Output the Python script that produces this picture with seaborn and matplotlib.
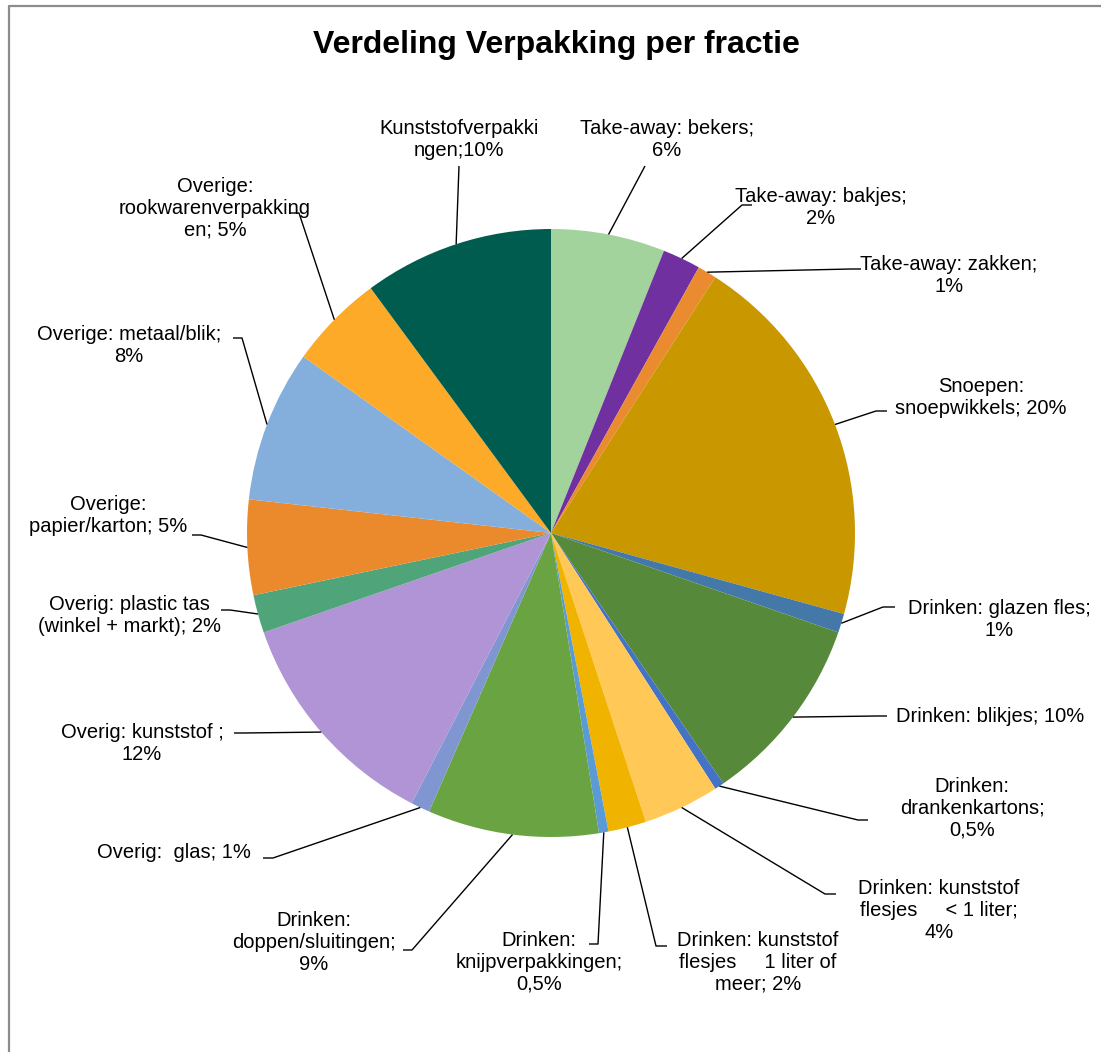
import numpy as np
import matplotlib
matplotlib.use("Agg")
import matplotlib.pyplot as plt
import seaborn as sns

# Shares per packaging fraction (percent), clockwise from the top
categories = [
    "Take-away: bekers", "Take-away: bakjes", "Take-away: zakken",
    "Snoepen: snoepwikkels", "Drinken: glazen fles", "Drinken: blikjes",
    "Drinken: drankenkartons", "Drinken: kunststof flesjes < 1 liter",
    "Drinken: kunststof flesjes 1 liter of meer", "Drinken: knijpverpakkingen",
    "Drinken: doppen/sluitingen", "Overig: glas", "Overig: kunststof",
    "Overig: plastic tas (winkel + markt)", "Overige: papier/karton",
    "Overige: metaal/blik", "Overige: rookwarenverpakkingen",
    "Kunststofverpakkingen",
]
values = [6, 2, 1, 20, 1, 10, 0.5, 4, 2, 0.5, 9, 1, 12, 2, 5, 8, 5, 10]

# Label texts as wrapped in the chart; {} receives the percentage
label_templates = [
    "Take-away: bekers;\n{}",
    "Take-away: bakjes;\n{}",
    "Take-away: zakken;\n{}",
    "Snoepen:\nsnoepwikkels; {}",
    "Drinken: glazen fles;\n{}",
    "Drinken: blikjes; {}",
    "Drinken:\ndrankenkartons;\n{}",
    "Drinken: kunststof\nflesjes     < 1 liter;\n{}",
    "Drinken: kunststof\nflesjes     1 liter of\nmeer; {}",
    "Drinken:\nknijpverpakkingen;\n{}",
    "Drinken:\ndoppen/sluitingen;\n{}",
    "Overig:  glas; {}",
    "Overig: kunststof ;\n{}",
    "Overig: plastic tas\n(winkel + markt); {}",
    "Overige:\npapier/karton; {}",
    "Overige: metaal/blik;\n{}",
    "Overige:\nrookwarenverpakking\nen; {}",
    "Kunststofverpakki\nngen;{}",
]

colors = [
    "#A2D39C", "#7030A0", "#EA8B2F", "#C99700", "#4478A8", "#568A3A",
    "#4472C4", "#FFC857", "#F0B400", "#5B9BD5", "#6AA342", "#7F96D0",
    "#B094D6", "#50A47A", "#EA8A2D", "#84AEDB", "#FDAA28", "#005C4E",
]

# Layout in pixel units (y measured from the top of the figure)
W, H = 1101, 1052
CENTER = (551, 533)
RADIUS = 304
# text centre, elbow of leader line, end of short horizontal tail (or None)
label_layout = [
    ((667, 140), (645, 166), None),
    ((821, 208), (742, 205), (752, 205)),
    ((949, 275), (851, 269), (861, 269)),
    ((981, 397), (876, 411), (887, 411)),
    ((999, 620), (883, 607), (895, 607)),
    ((990, 716), (877, 716), (887, 716)),
    ((972, 808), (858, 820), (868, 820)),
    ((939, 911), (825, 894), (836, 894)),
    ((758, 962), (656, 946), (667, 946)),
    ((539, 962), (598, 944), (589, 944)),
    ((314, 943), (412, 950), (403, 950)),
    ((174, 853), (273, 858), (263, 858)),
    ((142, 743), (243, 733), (234, 733)),
    ((129, 615), (230, 610), (221, 610)),
    ((108, 516), (201, 535), (192, 535)),
    ((129, 345), (242, 338), (233, 338)),
    ((215, 208), (299, 213), (290, 213)),
    ((459, 140), (459, 166), None),
]


def px(x, y):
    return x, H - y


def fmt_pct(v):
    s = f"{v:g}".replace(".", ",")
    return s + "%"


sns.set_theme(style="white")
plt.rcParams["font.family"] = ["Liberation Sans", "DejaVu Sans"]

fig = plt.figure(figsize=(W / 100, H / 100), dpi=100)
ax = fig.add_axes([0, 0, 1, 1])

palette = sns.color_palette(colors)
wedges, _ = ax.pie(
    values,
    colors=palette,
    startangle=90,
    counterclock=False,
    center=px(*CENTER),
    radius=RADIUS,
    frame=True,
    wedgeprops=dict(linewidth=0),
)
ax.set_xlim(0, W)
ax.set_ylim(0, H)
ax.set_aspect("equal")
ax.axis("off")

cx, cy = px(*CENTER)
for wedge, tmpl, v, (tpos, elbow, tail) in zip(wedges, label_templates, values, label_layout):
    mid = np.deg2rad((wedge.theta1 + wedge.theta2) / 2)
    sx = cx + RADIUS * np.cos(mid)
    sy = cy + RADIUS * np.sin(mid)
    ex, ey = px(*elbow)
    xs, ys = [sx, ex], [sy, ey]
    if tail is not None:
        tx_, ty_ = px(*tail)
        xs.append(tx_)
        ys.append(ty_)
    ax.plot(xs, ys, color="black", linewidth=1.0, solid_capstyle="butt")
    ax.text(*px(*tpos), tmpl.format(fmt_pct(v)), ha="center", va="center",
            multialignment="center", fontsize=14.5, color="black",
            linespacing=1.2)

ax.text(*px(556, 45), "Verdeling Verpakking per fractie", ha="center",
        va="center", fontsize=23, fontweight="bold", color="black")

# chart area border (left and top edges visible)
ax.plot([8.5, 8.5, W + 5], [-5, H - 5.5, H - 5.5], color="#8c8c8c",
        linewidth=1.6, clip_on=False)

fig.savefig("out.png", dpi=100)
